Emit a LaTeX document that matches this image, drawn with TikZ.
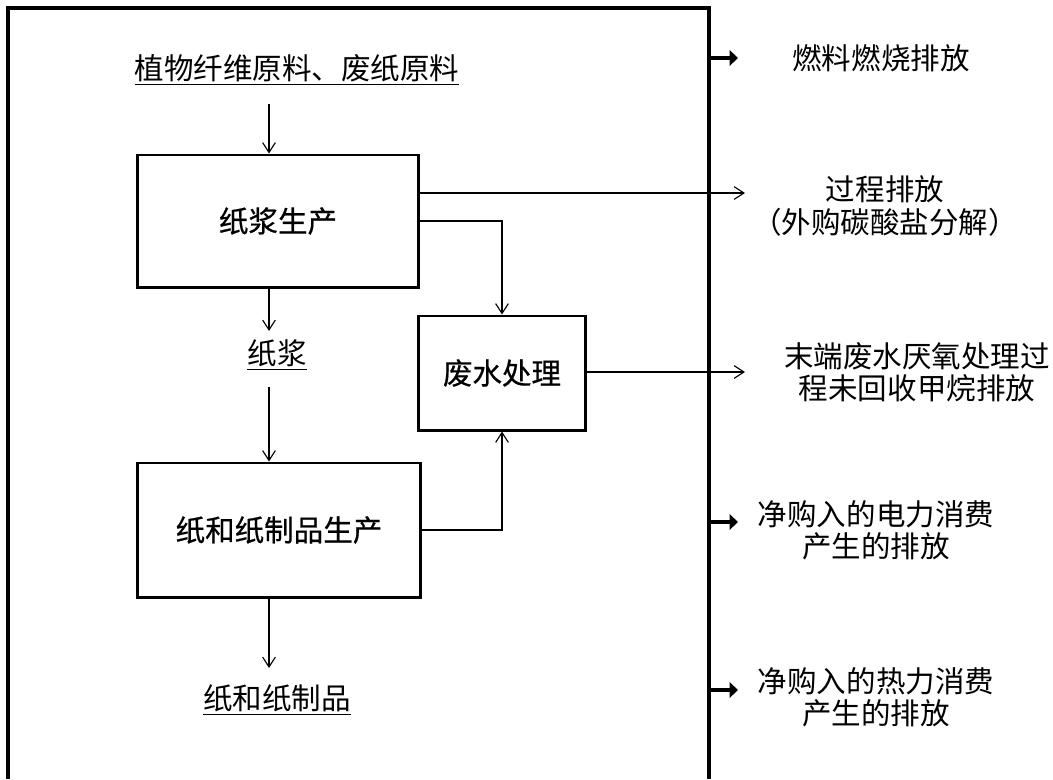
\documentclass[tikz,border=0pt]{standalone}
\usepackage{fontspec}
\setmainfont{Noto Sans CJK SC}
\newfontfamily\boxfont[FakeBold=0.6]{Noto Sans CJK SC}
\usetikzlibrary{arrows.meta}

\tikzset{
  procbox/.style={draw, line width=2.1pt, minimum width=7cm, minimum height=3.3cm,
    font=\fontsize{21}{23}\boxfont},
  lbl/.style={font=\fontsize{21}{23}\selectfont, align=center},
  flowarr/.style={line width=0.8pt, -{Straight Barb[length=7pt,width=9pt]}},
  emitarr/.style={line width=3.5pt, -{Triangle[length=6pt,width=11pt]}},
}

\begin{document}
\begin{tikzpicture}[x=0.025cm, y=-0.025cm]
\useasboundingbox (0,0) rectangle (1053,779);

% boundary, open at the bottom
\draw[line width=2.4pt] (8,779) -- (8,8) -- (709,8) -- (709,779);
\coordinate (frameR) at (709,0);
\coordinate (col) at (269,0);

% main line
\node[lbl] (raw) at (297,70) {\underline{植物纤维原料、废纸原料}};
\node[procbox] (pulping) at (278,221) {纸浆生产};
\node[lbl] (pulp) at (277,355) {\underline{纸浆}};
\node[procbox, minimum width=7.05cm, minimum height=3.35cm] (papermaking) at (279,530) {纸和纸制品生产};
\node[lbl] (paper) at (277,700) {\underline{纸和纸制品}};
\node[procbox, minimum width=4.175cm, minimum height=2.85cm] (wastewater) at (502,373) {废水处理};

\draw[flowarr, shorten <=0.35cm] (raw.south -| col) -- (pulping.north -| col);
\draw[flowarr, shorten >=0.1cm] (pulping.south -| col) -- (pulp.north -| col);
\draw[flowarr, shorten <=0.3cm] (pulp.south -| col) -- (papermaking.north -| col);
\draw[flowarr, shorten >=0.3cm] (papermaking.south -| col) -- (paper.north -| col);

\draw[flowarr] (pulping.east) -| (wastewater.north);
\draw[flowarr] (papermaking.east) -| (wastewater.south);

% emission sources
\node[lbl] (fuel) at (881,58) {燃料燃烧排放};
\node[lbl] (process) at (885,206) {过程排放\\（外购碳酸盐分解）};
\node[lbl] (methane) at (917,372) {末端废水厌氧处理过\\程未回收甲烷排放};
\node[lbl] (power) at (876,530) {净购入的电力消费\\产生的排放};
\node[lbl] (heat) at (876,697) {净购入的热力消费\\产生的排放};

\coordinate (processtip) at (745,193);
\coordinate (methanetip) at (745,372);
\draw[flowarr] (pulping.east |- processtip) -- (processtip);
\draw[flowarr] (wastewater.east |- methanetip) -- (methanetip);

\foreach \n/\y in {fuel/58, power/522, heat/690} {
  \coordinate (\n tip) at (738,\y);
  \draw[emitarr] (frameR |- \n tip) -- (\n tip);
}

\end{tikzpicture}
\end{document}
